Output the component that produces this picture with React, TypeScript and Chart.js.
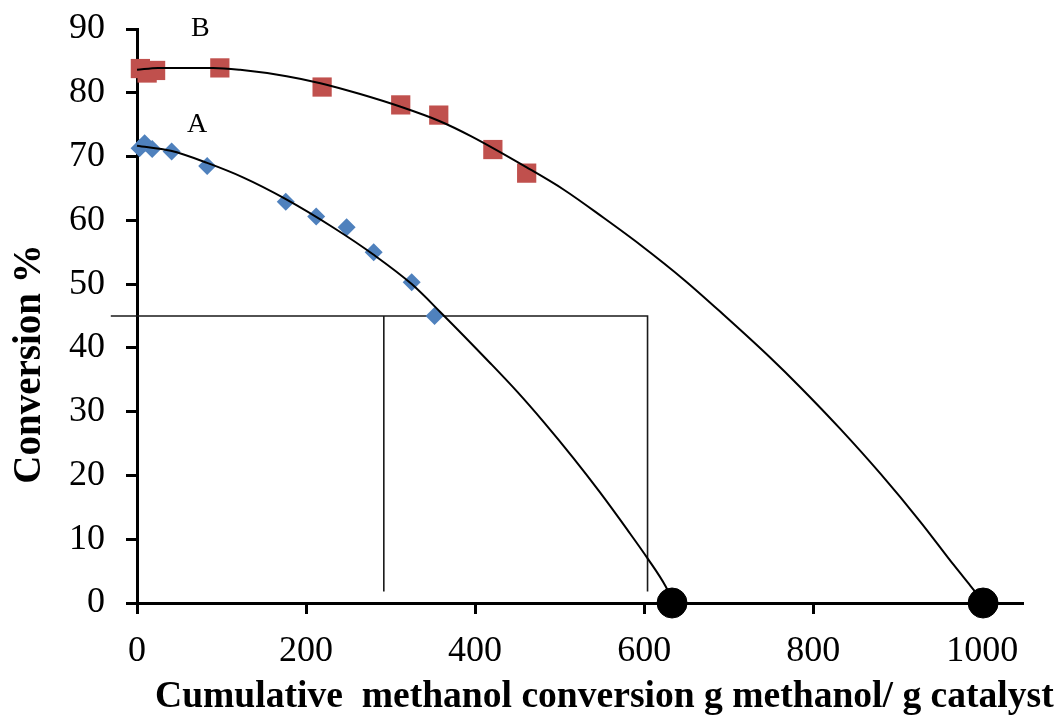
import React, { useEffect, useRef } from "react";
import { Chart, registerables } from "chart.js";

Chart.register(...registerables);

const X_TICKS = [0, 200, 400, 600, 800, 1000];
const Y_TICKS = [0, 10, 20, 30, 40, 50, 60, 70, 80, 90];

const A_X = [3, 9, 18, 41, 83, 176, 212, 248, 280, 325, 352];
const A_Y = [71.3, 72.1, 71.2, 70.8, 68.5, 62.9, 60.6, 58.9, 55.0, 50.3, 45.0];

const B_X = [4, 12, 22, 98, 219, 312, 357, 421, 461, 1000];
const B_Y = [83.8, 83.1, 83.5, 83.9, 80.9, 78.1, 76.5, 71.1, 67.4, 0];

const FIT_A_X = [0, 40, 83, 126, 175, 233, 280, 325, 359, 418, 450, 481, 517, 548, 580, 604, 625, 633];
const FIT_A_Y = [71.7, 70.9, 69.0, 66.7, 63.4, 58.8, 54.6, 50.0, 45.6, 37.6, 33.1, 28.4, 22.6, 17.3, 11.5, 7.0, 2.7, 0.5];

const FIT_B_X = [0, 25, 90, 122, 177, 217, 264, 312, 359, 395, 461, 505, 552, 596, 647, 694, 749, 785, 832, 880, 927, 966, 986, 1001];
const FIT_B_Y = [83.6, 83.9, 83.9, 83.6, 82.6, 81.5, 79.8, 77.8, 75.5, 73.2, 68.3, 64.8, 60.4, 56.1, 50.7, 45.2, 38.5, 33.8, 27.3, 20.2, 12.7, 6.0, 2.7, 0.2];

const GUIDE1_X = [-31, 604, 604];
const GUIDE1_Y = [45, 45, 1.8];
const GUIDE2_X = [292, 292];
const GUIDE2_Y = [45, 1.8];

const END_X = [633, 1001];
const END_Y = [0, 0];

const CURVE_LABELS = ["A", "B"];
const CURVE_LABEL_X = [71, 75];
const CURVE_LABEL_Y = [75, 90.1];

const X_TITLE = "Cumulative  methanol conversion g methanol/ g catalyst";
const Y_TITLE = "Conversion %";

const zip = (xs: number[], ys: number[]) => xs.map((x, i) => ({ x, y: ys[i] }));

const SERIF = "'Liberation Serif', 'Times New Roman', serif";

export default function App() {
  const ref = useRef<HTMLCanvasElement | null>(null);

  useEffect(() => {
    document.body.style.margin = "0";
    const canvas = ref.current;
    if (!canvas) return;

    const textPlugin = {
      id: "textPlugin",
      afterDraw(chart: any) {
        const ctx = chart.ctx;
        const xs = chart.scales.x;
        const ys = chart.scales.y;
        ctx.save();
        ctx.fillStyle = "#000";
        ctx.font = `28px ${SERIF}`;
        ctx.textAlign = "center";
        ctx.textBaseline = "middle";
        CURVE_LABELS.forEach((t, i) => {
          ctx.fillText(t, xs.getPixelForValue(CURVE_LABEL_X[i]), ys.getPixelForValue(CURVE_LABEL_Y[i]));
        });
        ctx.font = `bold 37.6px ${SERIF}`;
        ctx.textAlign = "left";
        ctx.textBaseline = "alphabetic";
        ctx.fillText(X_TITLE, 155, 707);
        ctx.translate(30, 364);
        ctx.rotate(-Math.PI / 2);
        ctx.textAlign = "center";
        ctx.textBaseline = "middle";
        ctx.font = `bold 39px ${SERIF}`;
        ctx.fillText(Y_TITLE, 0, 0);
        ctx.restore();
      },
    };

    const chart = new Chart(canvas, {
      type: "scatter",
      data: {
        datasets: [
          {
            label: "end",
            data: zip(END_X, END_Y),
            pointStyle: "circle",
            pointRadius: 15,
            backgroundColor: "#000",
            borderColor: "#000",
            showLine: false,
            clip: false,
            order: 0,
          } as any,
          {
            label: "fitA",
            data: zip(FIT_A_X, FIT_A_Y),
            showLine: true,
            borderColor: "#000",
            borderWidth: 2,
            pointRadius: 0,
            cubicInterpolationMode: "monotone",
            clip: false,
            order: 1,
          },
          {
            label: "fitB",
            data: zip(FIT_B_X, FIT_B_Y),
            showLine: true,
            borderColor: "#000",
            borderWidth: 2,
            pointRadius: 0,
            cubicInterpolationMode: "monotone",
            clip: false,
            order: 1,
          },
          {
            label: "A",
            data: zip(A_X, A_Y),
            pointStyle: "rectRot",
            pointRadius: 9,
            backgroundColor: "#4F81BD",
            borderColor: "#4F81BD",
            borderWidth: 0,
            showLine: false,
            clip: false,
            order: 2,
          },
          {
            label: "B",
            data: zip(B_X, B_Y),
            pointStyle: "rect",
            pointRadius: 13.6,
            backgroundColor: "#C0504D",
            borderColor: "#C0504D",
            borderWidth: 0,
            showLine: false,
            clip: false,
            order: 2,
          },
          {
            label: "guide1",
            data: zip(GUIDE1_X, GUIDE1_Y),
            showLine: true,
            borderColor: "#1a1a1a",
            borderWidth: 1.6,
            pointRadius: 0,
            tension: 0,
            clip: false,
            order: 3,
          },
          {
            label: "guide2",
            data: zip(GUIDE2_X, GUIDE2_Y),
            showLine: true,
            borderColor: "#1a1a1a",
            borderWidth: 1.6,
            pointRadius: 0,
            tension: 0,
            clip: false,
            order: 3,
          },
        ],
      },
      options: {
        responsive: false,
        animation: false,
        layout: { padding: { top: 29, right: 40, left: 0, bottom: 0 } },
        plugins: {
          legend: { display: false },
          tooltip: { enabled: false },
          title: { display: false },
        },
        scales: {
          x: {
            type: "linear",
            min: 0,
            max: 1047,
            afterBuildTicks: (scale: any) => {
              scale.ticks = X_TICKS.map((v) => ({ value: v }));
            },
            afterFit: (scale: any) => {
              scale.height = 112;
              scale.paddingLeft = 0;
              scale.paddingRight = 0;
            },
            grid: {
              drawOnChartArea: false,
              drawTicks: true,
              tickLength: 11,
              lineWidth: 3,
              color: "#000",
            },
            border: { display: true, width: 3, color: "#000" },
            ticks: {
              color: "#000",
              font: { family: SERIF, size: 36 },
              padding: 16,
              maxRotation: 0,
              callback: (v: any) => String(v),
            },
          },
          y: {
            type: "linear",
            min: 0,
            max: 90,
            afterBuildTicks: (scale: any) => {
              scale.ticks = Y_TICKS.map((v) => ({ value: v }));
            },
            afterFit: (scale: any) => {
              scale.width = 137;
              scale.paddingTop = 0;
              scale.paddingBottom = 0;
            },
            grid: {
              drawOnChartArea: false,
              drawTicks: true,
              tickLength: 11,
              lineWidth: 3,
              color: "#000",
            },
            border: { display: true, width: 3, color: "#000" },
            ticks: {
              color: "#000",
              font: { family: SERIF, size: 36 },
              padding: 21,
              callback: (v: any) => String(v),
            },
          },
        },
      },
      plugins: [textPlugin],
    });

    return () => chart.destroy();
  }, []);

  return (
    <div style={{ position: "fixed", left: 0, top: 0, width: 1062, height: 715, background: "#fff" }}>
      <canvas ref={ref} width={1062} height={715} style={{ display: "block" }} />
    </div>
  );
}
